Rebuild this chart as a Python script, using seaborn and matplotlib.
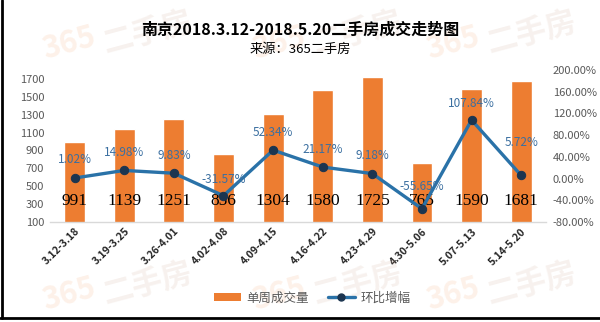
import matplotlib
matplotlib.use('Agg')
import matplotlib.pyplot as plt
import matplotlib.transforms as mtransforms
from matplotlib.patches import Patch
from matplotlib.lines import Line2D
import seaborn as sns
import pandas as pd

# ---- data ----
weeks = ['3.12-3.18', '3.19-3.25', '3.26-4.01', '4.02-4.08', '4.09-4.15',
         '4.16-4.22', '4.23-4.29', '4.30-5.06', '5.07-5.13', '5.14-5.20']
volumes = [991, 1139, 1251, 856, 1304, 1580, 1725, 765, 1590, 1681]
changes = [1.02, 14.98, 9.83, -31.57, 52.34, 21.17, 9.18, -55.65, 107.84, 5.72]
left_ticks = [100, 300, 500, 700, 900, 1100, 1300, 1500, 1700]
right_ticks = [-80, -40, 0, 40, 80, 120, 160, 200]
title = '南京2018.3.12-2018.5.20二手房成交走势图'
subtitle = '来源：365二手房'
bar_name = '单周成交量'
line_name = '环比增幅'

# ---- style ----
sns.set_theme(style='white')
plt.rcParams['font.family'] = ['Noto Sans CJK SC', 'DejaVu Sans']

BAR_C = '#ED7D31'
LINE_C = '#2A72A8'
MARK_C = '#1C3550'
PCT_C = '#3B6FA0'
AX_C = '#595959'

df = pd.DataFrame({'week': weeks, 'volume': volumes, 'change': changes})
df['pos'] = range(len(df))

fig = plt.figure(figsize=(6, 3.22), dpi=100)
fig.patch.set_facecolor('white')

# faint watermarks
wm = [(0.20, 0.885), (0.55, 0.885), (0.84, 0.885),
      (0.20, 0.105), (0.55, 0.105), (0.84, 0.105)]
for (x, y) in wm:
    fig.text(x - 0.085, y - 0.02, '365', fontsize=22, color='#F3A673', alpha=0.16,
             rotation=15, ha='center', va='center', fontweight='bold', zorder=0)
    fig.text(x + 0.045, y + 0.015, '二手房', fontsize=22, color='#C9A08A', alpha=0.14,
             rotation=15, ha='center', va='center', fontweight='bold', zorder=0)

ax = fig.add_axes([0.083, 0.3106, 0.827, 0.472])
ax.set_facecolor('none')
sns.barplot(data=df, x='week', y='volume', color=BAR_C, width=0.42,
            saturation=1, ax=ax, zorder=2)
ax.set_ylim(100, 1800)
ax.set_yticks(left_ticks)
ax.set_xlim(-0.5, len(weeks) - 0.5)
ax.set_xlabel('')
ax.set_ylabel('')
for s in ['top', 'left', 'right']:
    ax.spines[s].set_visible(False)
ax.spines['bottom'].set_color('#D9D9D9')
ax.spines['bottom'].set_linewidth(1)
ax.tick_params(axis='y', length=0, labelsize=8, labelcolor=AX_C, pad=4)
ax.tick_params(axis='x', length=0, pad=3)
ax.set_xticks(range(len(weeks)))
ax.set_xticklabels(weeks, rotation=45, ha='right', rotation_mode='anchor',
                   fontsize=7.5, color='#262626', fontweight='bold')

# bar value labels (inside base)
trans = mtransforms.blended_transform_factory(ax.transData, ax.transAxes)
for i, v in enumerate(volumes):
    ax.text(i, 0.135, str(v), transform=trans, ha='center', va='center',
            fontsize=12.5, family='Liberation Serif', color='black', zorder=5)

ax2 = ax.twinx()
ax2.set_facecolor('none')
sns.lineplot(data=df, x='pos', y='change', ax=ax2, color=LINE_C, linewidth=2.4,
             marker='o', markersize=6, markerfacecolor=MARK_C,
             markeredgecolor=MARK_C, zorder=4)
ax2.set_ylim(-80, 200)
ax2.set_yticks(right_ticks)
ax2.set_yticklabels([f'{t:.2f}%' for t in right_ticks])
ax2.set_xlim(-0.5, len(weeks) - 0.5)
ax2.set_xlabel('')
ax2.set_ylabel('')
for s in ax2.spines.values():
    s.set_visible(False)
ax2.tick_params(axis='y', length=0, labelsize=8, labelcolor=AX_C, pad=5)

pct_offsets = [13, 13, 13, 12, 13, 13, 13, 16, 12, 24]
for i, c in enumerate(changes):
    ax2.annotate(f'{c:.2f}%', (i, c), xytext=(0, pct_offsets[i]),
                 textcoords='offset points', ha='center', va='center',
                 fontsize=8.5, color=PCT_C, zorder=6)

handles = [Patch(facecolor=BAR_C, edgecolor='none'),
           Line2D([0], [0], color=LINE_C, lw=2.4, marker='o', markersize=5,
                  markerfacecolor=MARK_C, markeredgecolor=MARK_C)]
fig.legend(handles, [bar_name, line_name], loc='center',
           bbox_to_anchor=(0.52, 1 - 298 / 322), ncol=2, frameon=False,
           fontsize=9, labelcolor=AX_C, handlelength=2.2, handleheight=0.6,
           columnspacing=1.5, handletextpad=0.4)

fig.text(0.5, 1 - 30 / 322, title, ha='center', va='center', fontsize=11.5,
         fontweight='bold', color='black')
fig.text(0.5, 1 - 49 / 322, subtitle, ha='center', va='center', fontsize=9.5,
         color='black')

# frame lines (left and bottom)
fig.add_artist(Line2D([0.003, 0.003], [0.012, 1.0], transform=fig.transFigure,
                      color='black', lw=2))
fig.add_artist(Line2D([0.0, 1.0], [0.012, 0.012], transform=fig.transFigure,
                      color='black', lw=2))

fig.savefig('out.png', dpi=100)
